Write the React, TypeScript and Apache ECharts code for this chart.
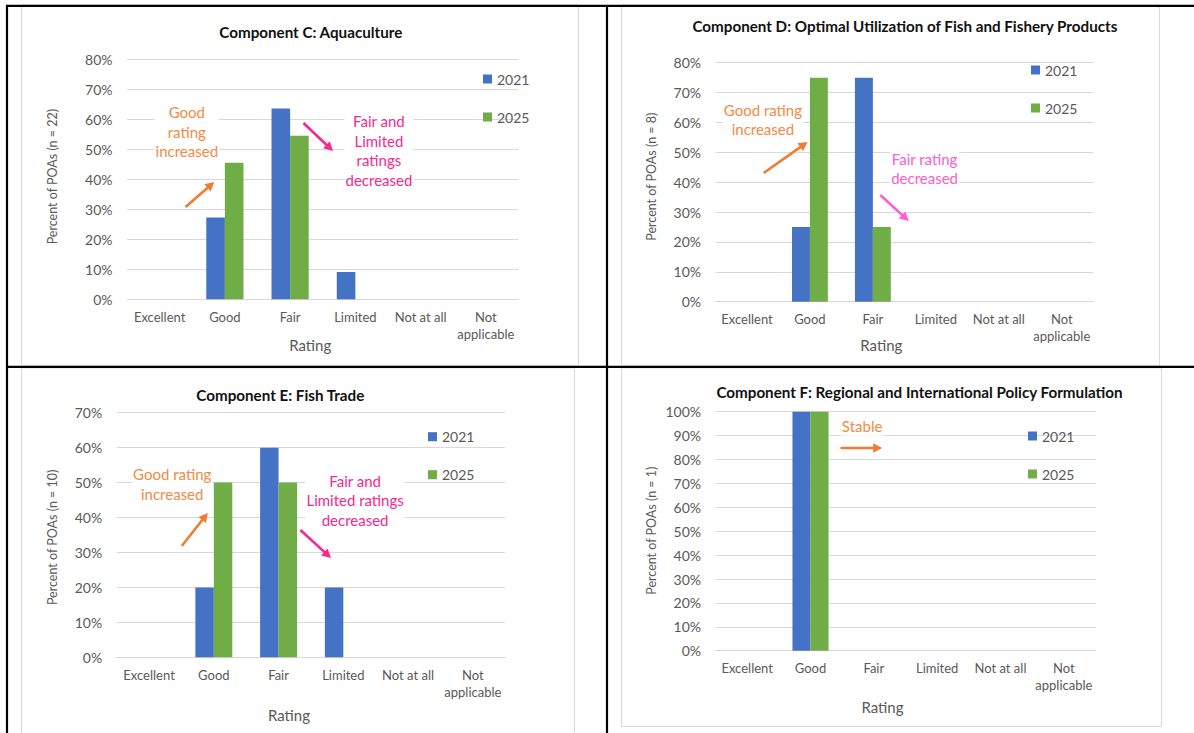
import React, { useEffect, useRef } from 'react';
import * as echarts from 'echarts';

// ---------- Data ----------
const categories = ['Excellent', 'Good', 'Fair', 'Limited', 'Not at all', 'Not applicable'];
const seriesNames = ['2021', '2025'];

const aquaculture2021 = [0, 27.3, 63.6, 9.1, 0, 0];
const aquaculture2025 = [0, 45.5, 54.5, 0, 0, 0];
const utilization2021 = [0, 25, 75, 0, 0, 0];
const utilization2025 = [0, 75, 25, 0, 0, 0];
const trade2021 = [0, 20, 60, 20, 0, 0];
const trade2025 = [0, 50, 50, 0, 0, 0];
const policy2021 = [0, 100, 0, 0, 0, 0];
const policy2025 = [0, 100, 0, 0, 0, 0];

const titles = [
  'Component C: Aquaculture',
  'Component D: Optimal Utilization of Fish and Fishery Products',
  'Component E: Fish Trade',
  'Component F: Regional and International Policy Formulation',
];
const yAxisNames = [
  'Percent of POAs (n = 22)',
  'Percent of POAs (n = 8)',
  'Percent of POAs (n = 10)',
  'Percent of POAs (n = 1)',
];
const yMaxima = [80, 80, 70, 100];
const xAxisName = 'Rating';

const annotationsC = ['Good\nrating\nincreased', 'Fair and\nLimited\nratings\ndecreased'];
const annotationsD = ['Good rating\nincreased', 'Fair rating\ndecreased'];
const annotationsE = ['Good rating\nincreased', 'Fair and\nLimited ratings\ndecreased'];
const annotationsF = ['Stable'];

// ---------- Styles / layout ----------
const FONT = 'Lato, "Noto Sans", sans-serif';
const GREY = '#595959';
const GRID_GREY = '#D9D9D9';
const BLUE = '#4472C4';
const GREEN = '#70AD47';
const ORANGE = '#ED7D31';
const ORANGE_TEXT = '#F28A45';
const PINK = '#F7288F';
const PINK_LIGHT = '#FF5CD0';

const layouts = [
  {
    grid: { left: 127, top: 59.3, width: 391.5, height: 240 },
    title: { x: 310.8, y: 32 },
    legend: { left: 483, top: 71 },
    yNameGap: 68, yNameShift: 5.3,
    xNameGap: 38.5, xNameShift: 25,
  },
  {
    grid: { left: 715.5, top: 62.7, width: 377.7, height: 239 },
    title: { x: 904.9, y: 26 },
    legend: { left: 1031, top: 62 },
    yNameGap: 58, yNameShift: 11,
    xNameGap: 36, xNameShift: 46,
  },
  {
    grid: { left: 116.7, top: 412.7, width: 388.5, height: 244.6 },
    title: { x: 280.3, y: 395 },
    legend: { left: 428, top: 428.7 },
    yNameGap: 58, yNameShift: -4.7,
    xNameGap: 50, xNameShift: 44,
  },
  {
    grid: { left: 715.5, top: 411.7, width: 380, height: 239 },
    title: { x: 919.5, y: 392 },
    legend: { left: 1028, top: 428 },
    yNameGap: 57.5, yNameShift: 1,
    xNameGap: 49, xNameShift: 46,
  },
];

const seriesData = [
  [aquaculture2021, aquaculture2025],
  [utilization2021, utilization2025],
  [trade2021, trade2025],
  [policy2021, policy2025],
];

function arrow(x1: number, y1: number, x2: number, y2: number, color: string) {
  const dx = x2 - x1;
  const dy = y2 - y1;
  const len = Math.hypot(dx, dy);
  const ux = dx / len;
  const uy = dy / len;
  const headLen = 9;
  const headW = 4.8;
  const bx = x2 - ux * headLen;
  const by = y2 - uy * headLen;
  const px = -uy;
  const py = ux;
  return [
    {
      type: 'line',
      silent: true,
      z: 50,
      shape: { x1, y1, x2: bx + ux * 1, y2: by + uy * 1 },
      style: { stroke: color, lineWidth: 2.6 },
    },
    {
      type: 'polygon',
      silent: true,
      z: 50,
      shape: {
        points: [
          [x2, y2],
          [bx + px * headW, by + py * headW],
          [bx - px * headW, by - py * headW],
        ],
      },
      style: { fill: color },
    },
  ];
}

function note(text: string, x: number, y: number, color: string) {
  return {
    type: 'text',
    silent: true,
    z: 50,
    x,
    y,
    style: {
      text,
      fill: color,
      fontFamily: FONT,
      fontSize: 15,
      lineHeight: 19.5,
      align: 'center',
      verticalAlign: 'middle',
      backgroundColor: '#ffffff',
      padding: [0, 1],
    },
  };
}

function buildOption() {
  const grids = layouts.map((l) => ({ ...l.grid, containLabel: false }));

  const xAxes = layouts.map((l, i) => ({
    type: 'category',
    gridIndex: i,
    data: categories,
    axisLine: { show: true, lineStyle: { color: GRID_GREY, width: 1 } },
    axisTick: { show: false },
    axisLabel: {
      color: GREY,
      fontFamily: FONT,
      fontSize: 13,
      lineHeight: 17,
      margin: 9,
      interval: 0,
      formatter: (v: string) => (v === 'Not applicable' ? 'Not\napplicable' : v),
    },
    name: xAxisName,
    nameLocation: 'middle',
    nameGap: l.xNameGap,
    nameMoveOverlap: false,
    nameTextStyle: {
      color: GREY,
      fontFamily: FONT,
      fontSize: 15,
      padding: [0, l.xNameShift, 0, 0],
    },
  }));

  const yAxes = layouts.map((l, i) => ({
    type: 'value',
    gridIndex: i,
    min: 0,
    max: yMaxima[i],
    interval: 10,
    axisLine: { show: false },
    axisTick: { show: false },
    splitLine: { show: true, lineStyle: { color: GRID_GREY, width: 1 } },
    axisLabel: {
      color: GREY,
      fontFamily: FONT,
      fontSize: 14,
      margin: 14.5,
      formatter: '{value}%',
    },
    name: yAxisNames[i],
    nameLocation: 'middle',
    nameGap: l.yNameGap,
    nameMoveOverlap: false,
    nameTextStyle: {
      color: GREY,
      fontFamily: FONT,
      fontSize: 12.5,
      padding: l.yNameShift >= 0 ? [0, 0, 0, l.yNameShift] : [0, -l.yNameShift, 0, 0],
    },
  }));

  const series: any[] = [];
  seriesData.forEach((pair, i) => {
    pair.forEach((values, j) => {
      series.push({
        type: 'bar',
        name: seriesNames[j],
        xAxisIndex: i,
        yAxisIndex: i,
        data: values,
        barGap: '0%',
        barCategoryGap: '43%',
        itemStyle: { color: j === 0 ? BLUE : GREEN },
        emphasis: { disabled: true },
      });
    });
  });

  const legends = layouts.map((l) => ({
    data: seriesNames,
    orient: 'vertical',
    left: l.legend.left,
    top: l.legend.top,
    padding: 0,
    itemGap: 22,
    itemWidth: 9,
    itemHeight: 9,
    icon: 'rect',
    selectedMode: false,
    textStyle: { color: GREY, fontFamily: FONT, fontSize: 14, lineHeight: 16 },
  }));

  const title = layouts.map((l, i) => ({
    text: titles[i],
    left: l.title.x,
    top: l.title.y - 9.5,
    textAlign: 'center',
    padding: 0,
    textStyle: { color: '#111111', fontFamily: FONT, fontSize: 15.2, fontWeight: 'bold', lineHeight: 19 },
  }));

  const frames = [
    { x: 21.5, y: 5, width: 557, height: 361 },
    { x: 621.5, y: 5, width: 538, height: 361 },
    { x: 21.5, y: 368, width: 553, height: 400 },
    { x: 621.5, y: 368, width: 540, height: 358.5 },
  ].map((shape) => ({
    type: 'rect',
    silent: true,
    z: -10,
    shape,
    style: { fill: 'none', stroke: GRID_GREY, lineWidth: 1 },
  }));

  const tableLines = [
    { x1: 6, y1: 5.8, x2: 1194, y2: 5.8 },
    { x1: 6, y1: 366.8, x2: 1194, y2: 366.8 },
    { x1: 7, y1: 5, x2: 7, y2: 733 },
    { x1: 607, y1: 5, x2: 607, y2: 733 },
  ].map((shape) => ({
    type: 'line',
    silent: true,
    z: 100,
    shape,
    style: { stroke: '#000000', lineWidth: 2.2 },
  }));

  const annotations = [
    note(annotationsC[0], 186.8, 131.7, ORANGE_TEXT),
    ...arrow(185.6, 207, 214.3, 182, ORANGE),
    note(annotationsC[1], 378.9, 150.5, PINK),
    ...arrow(303.5, 123, 333, 151, PINK),

    note(annotationsD[0], 762.9, 119.5, ORANGE_TEXT),
    ...arrow(763.6, 173, 807.6, 142, ORANGE),
    note(annotationsD[1], 924.6, 168.5, PINK_LIGHT),
    ...arrow(880.3, 195, 908.7, 221, PINK_LIGHT),

    note(annotationsE[0], 172.2, 484, ORANGE_TEXT),
    ...arrow(181.8, 546, 207.8, 513, ORANGE),
    note(annotationsE[1], 355.1, 500, PINK),
    ...arrow(300.4, 530, 331, 558, PINK),

    note(annotationsF[0], 862.1, 426, ORANGE_TEXT),
    ...arrow(840.5, 448, 882.2, 448, ORANGE),
  ];

  return {
    animation: false,
    backgroundColor: '#ffffff',
    textStyle: { fontFamily: FONT },
    title,
    legend: legends,
    grid: grids,
    xAxis: xAxes,
    yAxis: yAxes,
    series,
    graphic: [...frames, ...annotations, ...tableLines],
  };
}

export default function App() {
  const ref = useRef<HTMLDivElement>(null);
  useEffect(() => {
    if (!ref.current) return;
    const chart = echarts.init(ref.current, undefined, { renderer: 'svg' });
    chart.setOption(buildOption() as any);
    return () => chart.dispose();
  }, []);
  return (
    <div
      ref={ref}
      style={{ position: 'absolute', left: 0, top: 0, width: 1194, height: 733, background: '#fff' }}
    />
  );
}
